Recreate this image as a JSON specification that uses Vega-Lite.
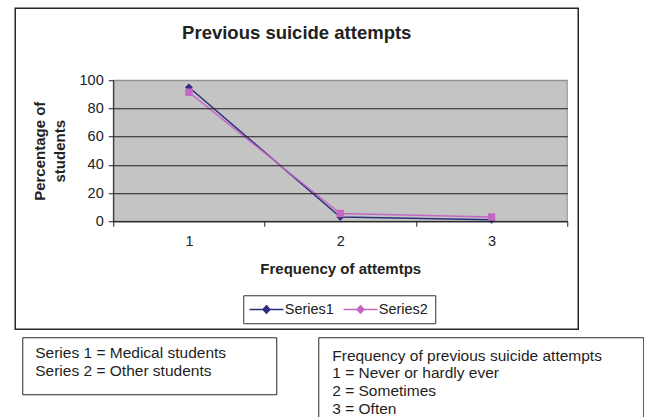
{
  "$schema": "https://vega.github.io/schema/vega-lite/v6.json",
  "background": "white",
  "padding": {"left": 14.25, "top": 7.25, "right": 0, "bottom": 0},
  "autosize": {"type": "pad"},
  "config": {"font": "Liberation Sans"},
  "datasets": {
    "attempts": [
      {"freq": 1, "series": "Series1", "pct": 95},
      {"freq": 2, "series": "Series1", "pct": 3},
      {"freq": 3, "series": "Series1", "pct": 1},
      {"freq": 1, "series": "Series2", "pct": 91.5},
      {"freq": 2, "series": "Series2", "pct": 5.5},
      {"freq": 3, "series": "Series2", "pct": 3}
    ],
    "series_notes": [
      {"row": 1, "line": "Series 1 = Medical students"},
      {"row": 2, "line": "Series 2 = Other students"}
    ],
    "frequency_notes": [
      {"row": 1, "line": "Frequency of previous suicide attempts"},
      {"row": 2, "line": "1 = Never or hardly ever"},
      {"row": 3, "line": "2 = Sometimes"},
      {"row": 4, "line": "3 = Often"}
    ]
  },
  "spacing": 6,
  "vconcat": [
    {
      "width": 563,
      "height": 321,
      "view": {"stroke": "#262626", "strokeWidth": 1.5, "fill": "white"},
      "title": {"text": "Previous suicide attempts", "font": "Liberation Sans", "fontSize": 18.5, "fontWeight": "bold", "color": "#222222", "anchor": "middle", "frame": "group", "offset": -49, "baseline": "alphabetic"},
      "data": {"name": "attempts"},
      "resolve": {"axis": {"x": "independent"}},
      "layer": [
        {
          "data": {"values": [{"area": "plot"}]},
          "mark": {"type": "rect", "fill": "#c4c4c4", "stroke": "#8f8f8f", "strokeWidth": 1},
          "encoding": {
            "x": {"datum": 0.5, "type": "quantitative",
              "scale": {"domain": [0.5, 3.5], "range": [98, 552], "nice": false, "zero": false},
              "axis": {"orient": "bottom", "offset": -108, "values": [0.5, 1.5, 2.5, 3.5], "labels": false, "domain": false, "grid": false, "ticks": true, "tickSize": 5, "tickColor": "#222222", "title": null, "zindex": 1}},
            "x2": {"datum": 3.5},
            "y": {"datum": 0, "type": "quantitative",
              "scale": {"domain": [0, 100], "range": [213, 72], "nice": false, "zero": false}},
            "y2": {"datum": 100}
          }
        },
        {
          "mark": {"type": "line", "strokeWidth": 1.5},
          "encoding": {
            "x": {"field": "freq", "type": "quantitative",
              "axis": {"orient": "bottom", "offset": -108, "values": [1, 2, 3], "format": "d", "ticks": false, "domain": true, "domainColor": "#222222", "grid": false, "labelFontSize": 14.5, "labelColor": "#222222", "labelPadding": 13.5, "title": "Frequency of attemtps", "titleFontSize": 15, "titleFontWeight": "bold", "titleColor": "#222222", "titlePadding": 13.5, "zindex": 1}},
            "y": {"field": "pct", "type": "quantitative",
              "axis": {"orient": "left", "offset": -98, "values": [0, 20, 40, 60, 80, 100], "grid": true,
                "gridColor": {"condition": {"test": "datum.value === 100", "value": "#8f8f8f"}, "value": "#1e1e1e"},
                "gridWidth": 1, "domain": true, "domainColor": "#222222", "ticks": true, "tickSize": 5, "tickColor": "#222222",
                "labelFontSize": 14.5, "labelColor": "#222222", "labelPadding": 5,
                "title": ["Percentage of", "students"], "titleFontSize": 15, "titleFontWeight": "bold", "titleColor": "#222222", "titlePadding": 12, "titleLineHeight": 20, "zindex": 1}},
            "color": {"field": "series", "type": "nominal",
              "scale": {"domain": ["Series1", "Series2"], "range": ["#2e2e7e", "#c466c4"]},
              "legend": {"orient": "none", "legendX": 228, "legendY": 287, "direction": "horizontal", "title": null,
                "strokeColor": "#333333", "fillColor": "white", "padding": 7,
                "labelFontSize": 14.5, "labelColor": "#222222", "labelFont": "Liberation Sans",
                "symbolSize": 100, "symbolOffset": 9, "labelOffset": 11, "columnPadding": 6, "symbolStrokeWidth": 1.5,
                "symbolType": "M-3.4,0H3.4M0,-0.75L0.7,0L0,0.75L-0.7,0Z"}}
          }
        },
        {
          "transform": [{"filter": "datum.series === 'Series1'"}],
          "mark": {"type": "point", "filled": true, "opacity": 1, "size": 60, "shape": "diamond"},
          "encoding": {
            "x": {"field": "freq", "type": "quantitative", "axis": null},
            "y": {"field": "pct", "type": "quantitative"},
            "color": {"field": "series", "type": "nominal"}
          }
        },
        {
          "transform": [{"filter": "datum.series === 'Series2'"}],
          "mark": {"type": "point", "filled": true, "opacity": 1, "size": 55, "shape": "square"},
          "encoding": {
            "x": {"field": "freq", "type": "quantitative", "axis": null},
            "y": {"field": "pct", "type": "quantitative"},
            "color": {"field": "series", "type": "nominal"}
          }
        }
      ]
    },
    {
      "spacing": 5,
      "hconcat": [
        {
          "width": 1, "height": 1,
          "view": {"stroke": null},
          "data": {"values": []},
          "mark": "point"
        },
        {
          "spacing": 40,
          "hconcat": [
            {
              "width": 254, "height": 57,
              "view": {"stroke": "#262626", "strokeWidth": 1},
              "data": {"name": "series_notes"},
              "mark": {"type": "text", "align": "left", "baseline": "middle", "dx": 13, "fontSize": 15.5, "font": "Liberation Sans", "color": "#1e1e1e"},
              "encoding": {
                "x": {"datum": 0, "type": "quantitative", "scale": {"domain": [0, 1]}, "axis": null},
                "y": {"field": "row", "type": "ordinal", "axis": null, "scale": {"type": "band", "paddingInner": 0, "paddingOuter": 0.6286, "align": 0.33}},
                "text": {"field": "line"}
              }
            },
            {
              "width": 325, "height": 90,
              "view": {"stroke": "#262626", "strokeWidth": 1},
              "data": {"name": "frequency_notes"},
              "mark": {"type": "text", "align": "left", "baseline": "middle", "dx": 14, "fontSize": 15.5, "font": "Liberation Sans", "color": "#1e1e1e"},
              "encoding": {
                "x": {"datum": 0, "type": "quantitative", "scale": {"domain": [0, 1]}, "axis": null},
                "y": {"field": "row", "type": "ordinal", "axis": null, "scale": {"type": "band", "paddingInner": 0, "paddingOuter": 0.571, "align": 0.5}},
                "text": {"field": "line"}
              }
            }
          ]
        }
      ]
    }
  ]
}
